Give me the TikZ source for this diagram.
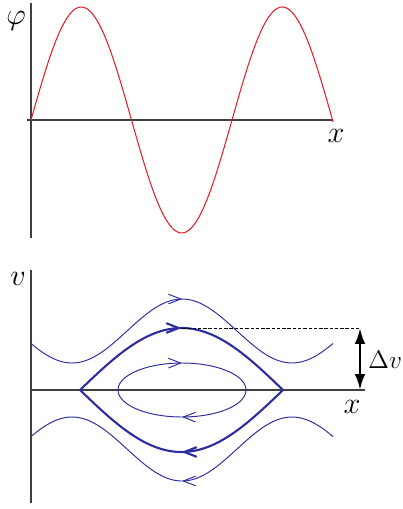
\documentclass[tikz,border=0pt]{standalone}
\usepackage{amsmath,amssymb}
\usepackage{xcolor}
\definecolor{wavered}{RGB}{230, 30, 40}
\definecolor{orbitblue}{RGB}{45, 45, 160}
\usepackage{tikz}
\usetikzlibrary{arrows.meta, decorations.markings, calc}

\tikzset{
  axisline/.style={line width=0.6pt, black!75},
  waveline/.style={wavered, line width=0.6pt},
  orbit/.style={orbitblue, line width=0.55pt},
  sepline/.style={orbitblue, line width=1.2pt},
  flowmark/.style={postaction={decorate, decoration={markings,
      mark=at position #1 with {\arrow{Straight Barb[length=7pt,width=5.5pt]}}}}},
}

\begin{document}
\begin{tikzpicture}[x=0.02cm, y=-0.02cm]
  \useasboundingbox (0,0) rectangle (402,509);

  % Potential panel
  \draw[axisline] (31,3) -- (31,238);
  \draw[axisline] (27,120) -- (333,120);
  \draw[waveline, domain=31:333, samples=160]
    plot (\x, {120-113*sin(1.79104*(\x-31))});
  \node[inner sep=1pt] (philabel) at (16,21) {\LARGE $\varphi$};
  \node (xtop) at (336,136) {\LARGE $x$};

  % Phase space panel
  \draw[axisline] (31,270) -- (31,503);
  \draw[axisline] (31,390) -- (365,390);
  \node (vlabel) at (18,279) {\LARGE $v$};
  \node (xbot) at (352,407) {\LARGE $x$};

  % Passing orbits
  \draw[orbit, flowmark=0.5, domain=31:333, samples=120]
    plot (\x, {390-59-32*cos(1.63636*(\x-182))});
  \draw[orbit, flowmark=0.5, domain=333:31, samples=120]
    plot (\x, {390+59+32*cos(1.63636*(\x-182))});

  % Separatrix
  \draw[sepline, flowmark=0.5, domain=80:283, samples=120]
    plot (\x, {390-62*cos(0.88670*(\x-181.5))});
  \draw[sepline, flowmark=0.5, domain=283:80, samples=120]
    plot (\x, {390+62*cos(0.88670*(\x-181.5))});

  % Trapped orbit
  \draw[orbit, flowmark=0.25, flowmark=0.75, domain=0:360, samples=121]
    plot ({182+64*cos(\x)}, {390+27*sin(\x)});

  % Trapping width
  \coordinate (septop) at (182,328);
  \coordinate (dvtop) at (360,328);
  \coordinate (dvbot) at (360,390);
  \draw[black, line width=0.4pt, dash pattern=on 2pt off 1pt] (septop) -- (dvtop);
  \draw[black, line width=1.5pt, {Latex[length=9pt,width=6pt]}-{Latex[length=9pt,width=6pt]}]
    (dvbot) -- (dvtop);
  \node[anchor=base west, inner sep=0pt] (dvlabel) at (368,368) {\Large $\Delta v$};
\end{tikzpicture}
\end{document}
